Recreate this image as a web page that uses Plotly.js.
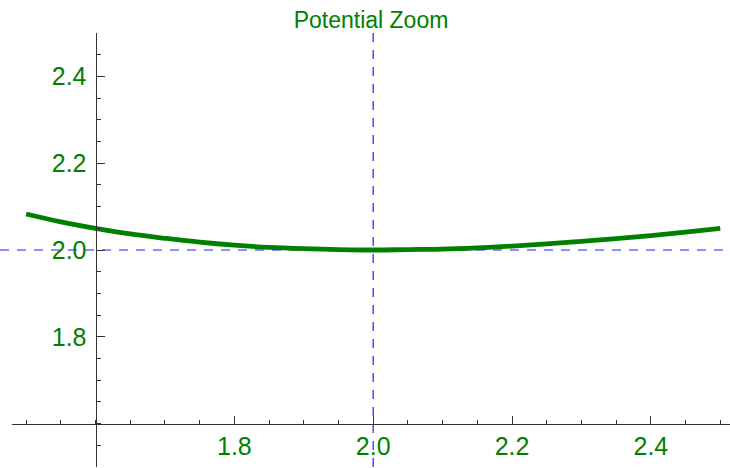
<!DOCTYPE html>
<html>
<head>
<meta charset="utf-8">
<script src="https://cdn.plot.ly/plotly-3.0.1.min.js"></script>
<style>html,body{margin:0;padding:0;background:#fff;}#chart{width:730px;height:468px;}</style>
</head>
<body>
<div id="chart"></div>
<script>
// Data (potential near its minimum)
const xValues = [1.50,1.55,1.60,1.65,1.70,1.75,1.80,1.85,1.90,1.95,2.00,2.05,2.10,2.15,2.20,2.25,2.30,2.35,2.40,2.45,2.50];
const yValues = [2.083,2.065,2.050,2.037,2.027,2.018,2.011,2.006,2.003,2.001,2.000,2.001,2.002,2.005,2.009,2.014,2.020,2.026,2.033,2.041,2.050];
const xTickVals = [1.8,2.0,2.2,2.4];
const xTickText = ["1.8","2.0","2.2","2.4"];
const yTickVals = [1.8,2.0,2.2,2.4];
const yTickText = ["1.8","2.0","2.2","2.4"];
const minimumX = 2.0;
const minimumY = 2.0;
const chartTitle = "Potential Zoom";

const green = "rgb(0,128,0)";
const xRange = [1.4797, 2.514];
const yRange = [1.5, 2.5];
const axisColor = "#333333";
const dashColor = "rgb(30,30,255)";

const trace = {
  x: xValues, y: yValues, type: "scatter", mode: "lines",
  line: {color: green, width: 4.8, shape: "spline"},
  hoverinfo: "skip"
};

const layout = {
  width: 730, height: 468,
  margin: {l: 12, r: 0, t: 33, b: 1, pad: 0},
  paper_bgcolor: "#fff", plot_bgcolor: "#fff",
  showlegend: false,
  title: {text: chartTitle, font: {family: "Liberation Sans, Arial, sans-serif", size: 23, color: green},
          x: 0.5, xref: "paper", xanchor: "center", y: 1 - 20/468, yref: "container", yanchor: "middle"},
  xaxis: {
    range: xRange, anchor: "free", position: (1.6 - yRange[0])/(yRange[1]-yRange[0]),
    showgrid: false, zeroline: false, showline: true, linecolor: axisColor, linewidth: 1,
    tickmode: "array", tickvals: xTickVals, ticktext: xTickText,
    ticks: "inside", ticklen: 8, tickcolor: axisColor, tickwidth: 1,
    tickfont: {family: "Liberation Sans, Arial, sans-serif", size: 25, color: green},
    ticklabelstandoff: 0,
    minor: {dtick: 0.05, tick0: 1.5, ticks: "inside", ticklen: 4, tickcolor: axisColor, tickwidth: 1, showgrid: false}
  },
  yaxis: {
    range: yRange, anchor: "free", position: (1.6 - xRange[0])/(xRange[1]-xRange[0]),
    showgrid: false, zeroline: false, showline: true, linecolor: axisColor, linewidth: 1,
    tickmode: "array", tickvals: yTickVals, ticktext: yTickText,
    ticks: "inside", ticklen: 8, tickcolor: axisColor, tickwidth: 1,
    tickfont: {family: "Liberation Sans, Arial, sans-serif", size: 25, color: green},
    ticklabelstandoff: 4,
    minor: {dtick: 0.05, tick0: 1.5, ticks: "inside", ticklen: 4, tickcolor: axisColor, tickwidth: 1, showgrid: false}
  },
  shapes: [
    {type: "line", xref: "paper", yref: "y", x0: -12/718, x1: 1, y0: minimumY, y1: minimumY,
     line: {color: dashColor, width: 1.2, dash: "9px,8px"}, layer: "below"},
    {type: "line", xref: "x", yref: "paper", x0: minimumX, x1: minimumX, y0: 0, y1: 1,
     line: {color: dashColor, width: 1.2, dash: "9px,8px"}, layer: "below"}
  ]
};

Plotly.newPlot("chart", [trace], layout, {staticPlot: true, displayModeBar: false});
</script>
</body>
</html>
